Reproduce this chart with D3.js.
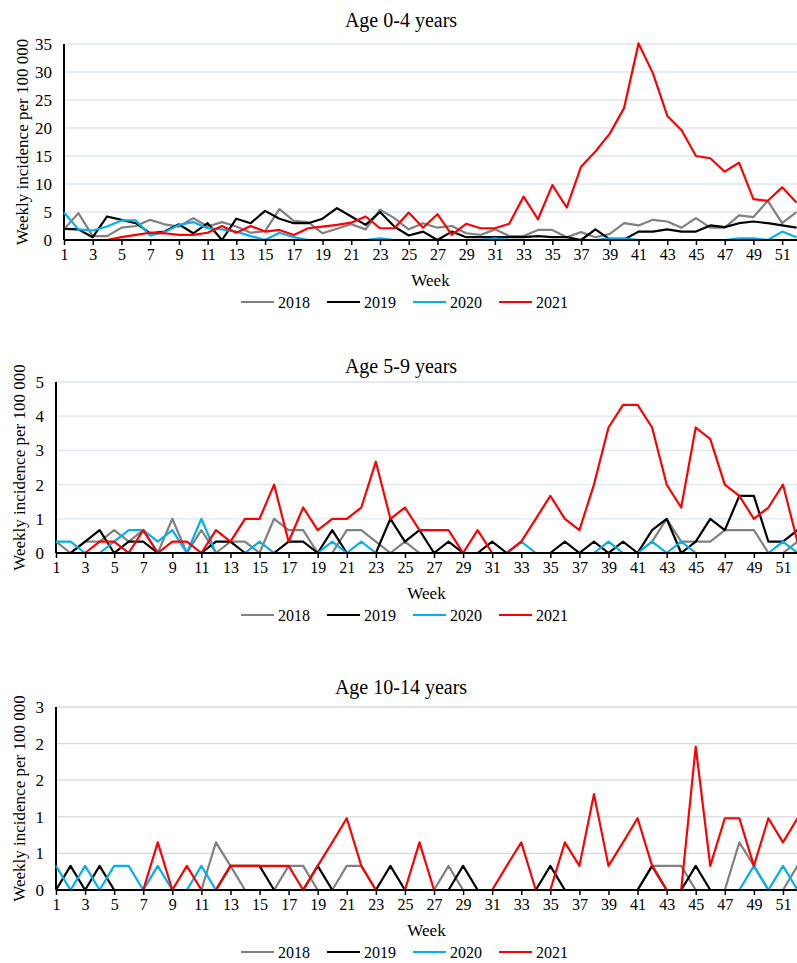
<!DOCTYPE html>
<html>
<head>
<meta charset="utf-8">
<script src="https://cdn.jsdelivr.net/npm/d3@7/dist/d3.min.js"></script>
<style>
  body { margin: 0; background: #fff; }
  svg { display: block; }
  text { font-family: "Liberation Serif", "Times New Roman", serif; fill: #000; }
</style>
</head>
<body>
<svg id="chart" width="797" height="963"></svg>
<script>
// ---- data ----
var weeks = [1,2,3,4,5,6,7,8,9,10,11,12,13,14,15,16,17,18,19,20,21,22,23,24,25,26,
             27,28,29,30,31,32,33,34,35,36,37,38,39,40,41,42,43,44,45,46,47,48,49,50,51,52];
var weekTicks = [1,3,5,7,9,11,13,15,17,19,21,23,25,27,29,31,33,35,37,39,41,43,45,47,49,51];
var years = ["2018", "2019", "2020", "2021"];

// Age 0-4
var age04_2018 = [1.9,4.8,0.7,0.7,2.2,2.5,3.6,2.8,2.4,3.9,2.4,3.2,2.4,1.3,1.6,5.5,3.4,3.2,1.2,2.0,2.8,1.9,5.4,3.9,1.9,3.0,
                  2.2,2.5,1.2,0.9,1.9,0.7,0.7,1.8,1.8,0.5,1.4,0.5,1.1,3.0,2.6,3.6,3.3,2.2,3.9,2.2,2.2,4.4,4.1,7.0,3.0,5.0];
var age04_2019 = [2.0,1.9,0.5,4.2,3.6,3.0,1.2,1.5,2.8,1.2,3.0,0,3.8,3.0,5.2,3.8,3.0,3.0,3.8,5.7,4.2,2.7,5.0,2.4,0.8,1.5,
                  0,1.5,0.5,0.5,0.5,0.5,0.5,0.7,0.5,0.5,0,1.9,0.1,0.1,1.5,1.5,1.9,1.5,1.5,2.6,2.3,3.0,3.3,3.0,2.6,2.2];
var age04_2020 = [4.9,1.9,1.7,2.4,3.5,3.5,0.8,1.4,2.7,3.2,2.1,1.9,1.5,0.7,0,1.3,0.5,0,0,0,0,0,0.3,0,0,0,
                  0,0,0,0,0.3,0,0,0,0,0,0,0,0.3,0.3,0,0,0,0,0,0,0,0.3,0.3,0,1.5,0.5];
var age04_2021 = [0,0,0,0,0.5,0.9,1.3,1.2,0.9,0.9,1.3,2.5,1.3,2.5,1.5,1.8,0.9,2.1,2.4,2.7,3.1,4.2,2.1,2.1,4.9,2.2,
                  4.6,0.9,2.9,2.1,2.1,2.9,7.75,3.7,9.8,5.8,13.1,15.8,19.0,23.6,35.1,29.8,22.2,19.6,15.0,14.6,12.2,13.8,7.3,7.0,9.4,6.7];

// Age 5-9
var age59_2018 = [0.33,0,0.33,0.33,0.67,0.33,0.67,0,1,0,0.67,0,0.33,0.33,0,1,0.67,0.67,0,0,0.67,0.67,0.33,0,0.33,0,
                  0,0,0,0,0,0,0,0,0,0,0,0,0,0,0,0.33,1,0.33,0.33,0.33,0.67,0.67,0.67,0,0,0.33];
var age59_2019 = [0,0,0.33,0.67,0,0.33,0.33,0,0,0,0,0.33,0.33,0,0,0,0.33,0.33,0,0.67,0,0,0,1,0.33,0.67,
                  0,0.33,0,0,0.33,0,0,0,0,0.33,0,0.33,0,0.33,0,0.67,1,0,0.33,1,0.67,1.67,1.67,0.33,0.33,0.67];
var age59_2020 = [0.33,0.33,0,0,0.33,0.67,0.67,0.33,0.67,0,1,0,0,0,0.33,0,0,0,0,0.33,0,0.33,0,0,0,0,
                  0,0,0,0,0,0,0.33,0,0,0,0,0,0.33,0,0,0.33,0,0.33,0,0,0,0,0,0,0.33,0];
var age59_2021 = [0,0,0,0.33,0.33,0,0.67,0,0.33,0.33,0,0.67,0.33,1,1,2,0.33,1.33,0.67,1,1,1.33,2.67,1,1.33,0.67,
                  0.67,0.67,0,0.67,0,0,0.33,1,1.67,1,0.67,2,3.67,4.33,4.33,3.67,2,1.33,3.67,3.33,2,1.67,1,1.33,2,0.33];

// Age 10-14
var age1014_2018 = [0,0,0,0,0,0,0,0,0,0,0,0.65,0.33,0,0,0,0.33,0.33,0,0,0.33,0.33,0,0,0,0,
                    0,0.33,0,0,0,0,0,0,0,0,0,0,0,0,0,0.33,0.33,0.33,0,0,0,0.65,0.33,0,0,0.33];
var age1014_2019 = [0,0.33,0,0.33,0,0,0,0,0,0,0,0,0.33,0.33,0.33,0,0,0,0.33,0,0,0,0,0.33,0,0,
                    0,0,0.33,0,0,0,0,0,0.33,0,0,0,0,0,0,0.33,0,0,0.33,0,0,0,0,0,0,0];
var age1014_2020 = [0.33,0,0.33,0,0.33,0.33,0,0.33,0,0,0.33,0,0,0,0,0,0,0,0,0,0,0,0,0,0,0,
                    0,0,0,0,0,0,0,0,0,0,0,0,0,0,0,0,0,0,0,0,0,0,0.33,0,0.33,0];
var age1014_2021 = [0,0,0,0,0,0,0,0.65,0,0.33,0,0,0.33,0.33,0.33,0.33,0.33,0,0.33,0.65,0.98,0.33,0,0,0,0.65,
                    0,0,0,0,0,0.33,0.65,0,0,0.65,0.33,1.31,0.33,0.65,0.98,0.33,0,0,1.96,0.33,0.98,0.98,0.33,0.98,0.65,0.98];

var ticks04 = [0,5,10,15,20,25,30,35];
var ticks59 = [0,1,2,3,4,5];
var ticks1014 = [0,0.5,1,1.5,2,2.5];

// ---- styling / layout ----
var yearColors = { "2018": "#808080", "2019": "#000000", "2020": "#00b0f0", "2021": "#ff0000" };

var panels = [
  { title: "Age 0-4 years", series: [age04_2018, age04_2019, age04_2020, age04_2021], ticks: ticks04,
    left: 64, right: 796.5, top: 44, bottom: 240, titleY: 27, ylabX: 22, grid: "#dde6f3" },
  { title: "Age 5-9 years", series: [age59_2018, age59_2019, age59_2020, age59_2021], ticks: ticks59,
    left: 56, right: 797.5, top: 382, bottom: 553, titleY: 373, ylabX: 19, grid: "#dde6f3" },
  { title: "Age 10-14 years", series: [age1014_2018, age1014_2019, age1014_2020, age1014_2021], ticks: ticks1014,
    left: 56, right: 797.5, top: 707, bottom: 890, titleY: 694, ylabX: 19, grid: "#d9d9d9" }
];

var svg = d3.select("#chart");

function drawPanel(p) {
  var g = svg.append("g");
  var tmax = p.ticks[p.ticks.length - 1];

  var x = d3.scaleLinear().domain([1, 52]).range([p.left, p.right]);
  var y = d3.scaleLinear().domain([0, tmax]).range([p.bottom, p.top]);

  // title
  g.append("text")
    .attr("x", 401)
    .attr("y", p.titleY)
    .attr("text-anchor", "middle")
    .style("font-size", "20px")
    .text(p.title);

  // gridlines
  g.selectAll("line.grid")
    .data(p.ticks.slice(1))
    .enter().append("line")
    .attr("class", "grid")
    .attr("x1", p.left).attr("x2", 797)
    .attr("y1", function(d) { return y(d); })
    .attr("y2", function(d) { return y(d); })
    .attr("stroke", p.grid)
    .attr("stroke-width", 1.3);

  // y axis
  var yAxis = d3.axisLeft(y)
    .tickValues(p.ticks)
    .tickSize(0)
    .tickPadding(12)
    .tickFormat(function(d) { return Math.round(d); });
  var ya = g.append("g")
    .attr("transform", "translate(" + p.left + ",0)")
    .call(yAxis);
  ya.select(".domain").remove();
  ya.selectAll("text").style("font-size", "17px").attr("font-family", null);

  g.append("line")
    .attr("x1", p.left).attr("x2", p.left)
    .attr("y1", p.top).attr("y2", p.bottom)
    .attr("stroke", "#000")
    .attr("stroke-width", 2);

  // y label
  g.append("text")
    .attr("transform", "translate(" + p.ylabX + "," + ((p.top + p.bottom) / 2) + ") rotate(-90)")
    .attr("text-anchor", "middle")
    .attr("dy", "0.35em")
    .style("font-size", "17px")
    .text("Weekly incidence per 100 000");

  // lines
  var line = d3.line()
    .x(function(d, i) { return x(weeks[i]); })
    .y(function(d) { return y(d); });

  p.series.forEach(function(s, i) {
    g.append("path")
      .datum(s)
      .attr("d", line)
      .attr("fill", "none")
      .attr("stroke", yearColors[years[i]])
      .attr("stroke-width", 2.2)
      .attr("stroke-linejoin", "round");
  });

  // x axis
  var xAxis = d3.axisBottom(x)
    .tickValues(weekTicks)
    .tickSize(5)
    .tickSizeOuter(0)
    .tickPadding(4)
    .tickFormat(d3.format("d"));
  var xa = g.append("g")
    .attr("transform", "translate(0," + p.bottom + ")")
    .call(xAxis);
  xa.select(".domain").attr("stroke", "#000").attr("stroke-width", 2)
    .attr("d", "M" + p.left + ",0H797");
  xa.selectAll(".tick line").attr("stroke", "#000").attr("stroke-width", 1.5);
  xa.selectAll("text").style("font-size", "16px").attr("font-family", null);

  g.append("text")
    .attr("x", (p.left + 797) / 2)
    .attr("y", p.bottom + 46)
    .attr("text-anchor", "middle")
    .style("font-size", "17px")
    .text("Week");

  // legend
  var lg = g.append("g").attr("transform", "translate(241," + (p.bottom + 62) + ")");
  years.forEach(function(yr, i) {
    var item = lg.append("g").attr("transform", "translate(" + (i * 86) + ",0)");
    item.append("line")
      .attr("x1", 0).attr("x2", 33)
      .attr("stroke", yearColors[yr])
      .attr("stroke-width", 2.2);
    item.append("text")
      .attr("x", 37)
      .attr("dy", "0.35em")
      .style("font-size", "16px")
      .text(yr);
  });
}

panels.forEach(drawPanel);
</script>
</body>
</html>
